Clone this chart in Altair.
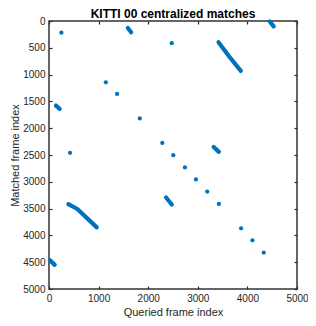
import altair as alt
import pandas as pd

# isolated matches (queried frame, matched frame)
point_x = [250, 2475, 1146, 1373, 1830, 2285, 424, 2506, 2740, 2962, 3190, 3425, 3873, 4102, 4330]
point_y = [217, 415, 1143, 1360, 1818, 2274, 2460, 2503, 2731, 2955, 3183, 3412, 3868, 4092, 4320]

# runs of consecutive matches (drawn as thick dotted streaks)
seg_id = ["A", "A", "A", "B", "B", "B", "C", "C", "D", "D", "E", "E", "F", "F", "G", "G", "H", "H"]
seg_x = [3418, 3633, 3867, 391, 572, 963, 20, 115, 4450, 4530, 3320, 3424, 1590, 1655, 140, 215, 2360, 2475]
seg_y = [397, 662, 930, 3417, 3507, 3850, 4465, 4550, 10, 100, 2350, 2442, 130, 210, 1578, 1640, 3292, 3424]

x_ticks = [0, 1000, 2000, 3000, 4000, 5000]
y_ticks = [0, 500, 1000, 1500, 2000, 2500, 3000, 3500, 4000, 4500, 5000]
axis_range = [0, 5000]

pts = pd.DataFrame({"q": point_x, "m": point_y})
segs = pd.DataFrame({"seg": seg_id, "q": seg_x, "m": seg_y, "o": list(range(len(seg_id)))})
frame = pd.DataFrame({"x0": [axis_range[0]], "x1": [axis_range[1]],
                      "y0": [axis_range[0]], "y1": [axis_range[1]]})

blue = "#0072BD"
dark = "#262626"
font = "Liberation Sans"

xscale = alt.Scale(domain=axis_range, nice=False, zero=False)
yscale = alt.Scale(domain=axis_range, nice=False, zero=False, reverse=True)

common = dict(domain=False, grid=False, tickSize=3, tickColor=dark, tickWidth=1.2,
              offset=-3, labelFont=font, labelFontSize=10, labelColor=dark,
              titleFont=font, titleFontSize=11, titleColor=dark, titleFontWeight="normal",
              labelFlush=False, labelOverlap=False, format="d")

x_bottom = alt.Axis(orient="bottom", values=x_ticks, title="Queried frame index",
                    labelPadding=4, titlePadding=3, **common)
y_left = alt.Axis(orient="left", values=y_ticks, title="Matched frame index",
                  labelPadding=4, titlePadding=2, **common)
x_top = alt.Axis(orient="top", values=x_ticks, labels=False, title=None, **common)
y_right = alt.Axis(orient="right", values=y_ticks, labels=False, title=None, **common)

box = alt.Chart(frame).mark_rect(fillOpacity=0, stroke="#333333",
                                 strokeWidth=1.5, strokeOpacity=1).encode(
    x=alt.X("x0:Q", scale=xscale, axis=None),
    x2="x1:Q",
    y=alt.Y("y0:Q", scale=yscale, axis=None),
    y2="y1:Q",
)

dots = alt.Chart(pts).mark_circle(size=18, opacity=1, color=blue).encode(
    x=alt.X("q:Q", scale=xscale, axis=x_bottom),
    y=alt.Y("m:Q", scale=yscale, axis=y_left),
)

runs = alt.Chart(segs).mark_line(color=blue, strokeWidth=4.2, strokeCap="round",
                                 strokeJoin="round").encode(
    x=alt.X("q:Q", scale=xscale, axis=x_top),
    y=alt.Y("m:Q", scale=yscale, axis=y_right),
    detail="seg:N",
    order="o:Q",
)

chart = alt.layer(box, dots, runs).resolve_axis(x="independent", y="independent").properties(
    width=248,
    height=268,
    background="white",
    padding={"left": 41, "top": 13, "right": 11, "bottom": 29},
    autosize=alt.AutoSizeParams(type="none"),
    title=alt.TitleParams("KITTI 00 centralized matches", font=font, fontSize=12,
                          fontWeight="bold", color="#000000", anchor="middle",
                          baseline="alphabetic", offset=3, dy=17),
).configure_view(stroke=None)

chart.save("out.html", embed_options={"renderer": "svg", "actions": False})
